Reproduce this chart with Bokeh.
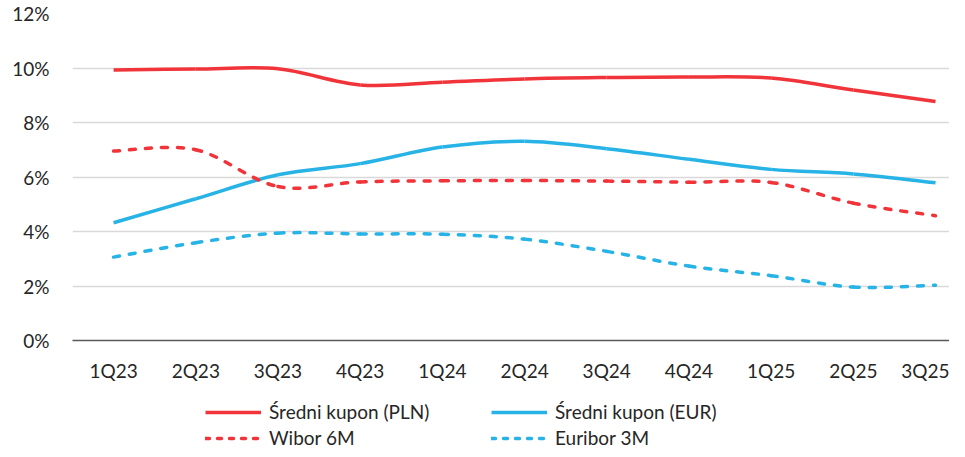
from bokeh.plotting import figure
from bokeh.layouts import column
from bokeh.models import Range1d, FixedTicker, PrintfTickFormatter, Legend, LegendItem, ColumnDataSource
from bokeh.embed import file_html
from bokeh.resources import INLINE

# ---- data (percent) ----
quarters = ["1Q23", "2Q23", "3Q23", "4Q23", "1Q24", "2Q24", "3Q24", "4Q24", "1Q25", "2Q25", "3Q25"]
kupon_pln = [9.93, 9.96, 9.97, 9.38, 9.48, 9.60, 9.65, 9.67, 9.63, 9.19, 8.77]
kupon_eur = [4.32, 5.20, 6.08, 6.49, 7.10, 7.31, 7.04, 6.65, 6.28, 6.11, 5.79]
wibor_6m = [6.95, 7.00, 5.65, 5.82, 5.86, 5.87, 5.85, 5.81, 5.80, 5.04, 4.58]
euribor_3m = [3.06, 3.59, 3.94, 3.91, 3.90, 3.72, 3.27, 2.73, 2.38, 1.96, 2.03]
y_ticks = [0, 2, 4, 6, 8, 10, 12]
series_labels = ["Średni kupon (PLN)", "Średni kupon (EUR)", "Wibor 6M", "Euribor 3M"]

RED = "#F0343A"
BLUE = "#27B3E6"
FONT = "Lato"
TXT = "#262626"


def bezier_source(vals):
    """Excel-style smoothed line: cubic segments with Catmull-Rom control points."""
    n = len(vals)
    xs = list(range(n))
    x0, y0, x1, y1, cx0, cy0, cx1, cy1 = [], [], [], [], [], [], [], []
    for i in range(n - 1):
        im1 = max(i - 1, 0)
        ip2 = min(i + 2, n - 1)
        x0.append(xs[i]); y0.append(vals[i])
        x1.append(xs[i + 1]); y1.append(vals[i + 1])
        cx0.append(xs[i] + (xs[i + 1] - xs[im1]) / 6.0)
        cy0.append(vals[i] + (vals[i + 1] - vals[im1]) / 6.0)
        cx1.append(xs[i + 1] - (xs[ip2] - xs[i]) / 6.0)
        cy1.append(vals[i + 1] - (vals[ip2] - vals[i]) / 6.0)
    return ColumnDataSource(dict(x0=x0, y0=y0, x1=x1, y1=y1, cx0=cx0, cy0=cy0, cx1=cx1, cy1=cy1))


p = figure(width=949, height=385, output_backend="svg", toolbar_location=None,
           x_range=Range1d(-0.5, 10.17), y_range=Range1d(0, 12),
           min_border_left=72, min_border_right=0, min_border_top=13, min_border_bottom=45)
p.outline_line_color = None
p.background_fill_color = "white"
p.border_fill_color = "white"

p.xgrid.grid_line_color = None
p.ygrid.grid_line_color = "#D9D9D9"
p.ygrid.grid_line_width = 1.3

p.yaxis.ticker = FixedTicker(ticks=y_ticks)
p.yaxis.formatter = PrintfTickFormatter(format="%d%%")
p.yaxis.axis_line_color = None
p.yaxis.major_tick_line_color = None
p.yaxis.minor_tick_line_color = None
p.yaxis.major_tick_out = 0
p.yaxis.major_label_standoff = 23

p.xaxis.ticker = FixedTicker(ticks=list(range(len(quarters))))
p.xaxis.major_label_overrides = {i: q for i, q in enumerate(quarters)}
p.xaxis.axis_line_color = "#595959"
p.xaxis.axis_line_width = 1.3
p.xaxis.major_tick_line_color = None
p.xaxis.minor_tick_line_color = None
p.xaxis.major_tick_out = 0
p.xaxis.major_label_standoff = 18

for ax in (p.xaxis, p.yaxis):
    ax.major_label_text_font = FONT
    ax.major_label_text_font_size = "19px"
    ax.major_label_text_color = TXT

common = dict(x0="x0", y0="y0", x1="x1", y1="y1", cx0="cx0", cy0="cy0", cx1="cx1", cy1="cy1")
p.bezier(source=bezier_source(kupon_pln), line_color=RED, line_width=3.5, **common)
p.bezier(source=bezier_source(kupon_eur), line_color=BLUE, line_width=3.5, **common)
p.bezier(source=bezier_source(wibor_6m), line_color=RED, line_width=3.5,
         line_dash="6 10", line_cap="round", **common)
p.bezier(source=bezier_source(euribor_3m), line_color=BLUE, line_width=3.5,
         line_dash="6 10", line_cap="round", **common)

# ---- legend strip (separate small figure below the chart; its lines lie outside its view) ----
lg = figure(width=949, height=64, output_backend="svg", toolbar_location=None,
            x_range=Range1d(0, 1), y_range=Range1d(100, 101),
            x_axis_location=None, y_axis_location=None,
            min_border_left=0, min_border_right=0, min_border_top=0, min_border_bottom=0)
lg.grid.visible = False
lg.outline_line_color = None
lg.border_fill_color = "white"

xi = list(range(len(quarters)))
l_pln = lg.line(x=xi, y=kupon_pln, line_color=RED, line_width=3.5)
l_eur = lg.line(x=xi, y=kupon_eur, line_color=BLUE, line_width=3.5)
l_wib = lg.line(x=xi, y=wibor_6m, line_color=RED, line_width=3.5, line_dash="4 8", line_cap="round")
l_eurb = lg.line(x=xi, y=euribor_3m, line_color=BLUE, line_width=3.5, line_dash="4 8", line_cap="round")

leg_style = dict(glyph_width=56, glyph_height=18, label_height=18, label_standoff=8, spacing=3,
                 padding=0, margin=0, border_line_color=None, background_fill_alpha=0,
                 label_text_font=FONT, label_text_font_size="19px", label_text_color=TXT)

leg1 = Legend(items=[LegendItem(label=series_labels[0], renderers=[l_pln]),
                     LegendItem(label=series_labels[2], renderers=[l_wib])],
              location=(133, 0), **leg_style)
leg2 = Legend(items=[LegendItem(label=series_labels[1], renderers=[l_eur]),
                     LegendItem(label=series_labels[3], renderers=[l_eurb])],
              location=(419, 0), **leg_style)
lg.add_layout(leg1)
lg.add_layout(leg2)

layout = column(p, lg, spacing=0)
open("out.html", "w").write(file_html(layout, INLINE))
